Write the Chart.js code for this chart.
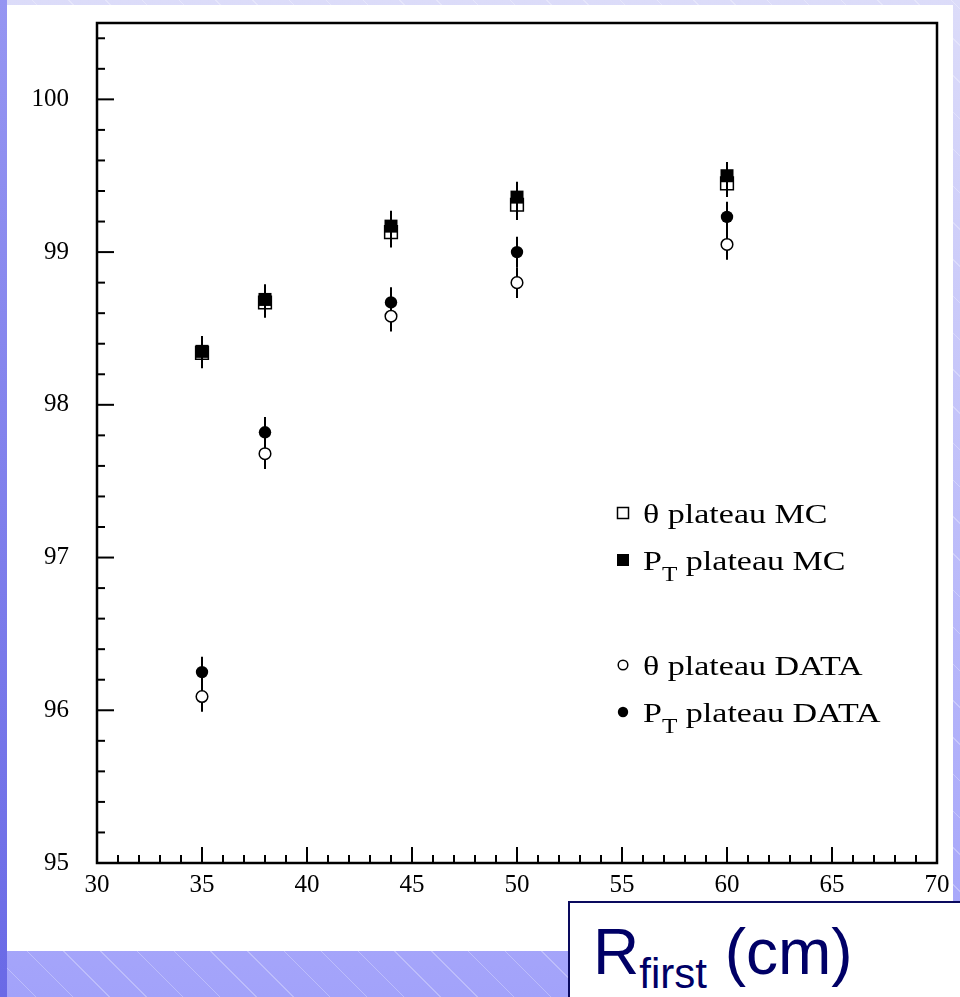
<!DOCTYPE html>
<html>
<head>
<meta charset="utf-8">
<script src="https://cdn.jsdelivr.net/npm/chart.js@4.4.1/dist/chart.umd.min.js"></script>
<style>
  body {
    margin: 0;
    width: 960px;
    height: 997px;
    position: relative;
    overflow: hidden;
    background:
      repeating-linear-gradient(45deg, rgba(255,255,255,0) 0 25px, rgba(255,255,255,0.28) 25px 26px),
      linear-gradient(to bottom, #dcdcf9, #a2a2fa);
  }
  #leftbar {
    position: absolute; left: 0; top: 0; width: 7px; height: 997px;
    background: linear-gradient(to bottom, #9696f2, #6a6ae6);
  }
  #panel {
    position: absolute; left: 7px; top: 5px; width: 946px; height: 946px;
    background: #fff;
  }
  #chart { position: absolute; left: 0; top: 0; }
  #xtitle {
    position: absolute; left: 568px; top: 901px; width: 420px; height: 120px;
    background: #fff; border: 2px solid #0a0a5e; box-sizing: border-box;
  }
  #xtitle span.lbl {
    position: absolute; left: 23px; top: 17px;
    font-family: 'Liberation Sans', Arial, sans-serif; font-size: 64px; line-height: 1;
    color: #000066; white-space: nowrap;
  }
  #xtitle sub { font-size: 42px; vertical-align: -14px; line-height: 0; }
</style>
</head>
<body>
<div id="leftbar"></div>
<div id="panel"></div>
<canvas id="chart" width="960" height="997"></canvas>
<div id="xtitle"><span class="lbl">R<sub>first</sub> (cm)</span></div>
<script>
// R_first values (cm)
const xValues = [35, 38, 44, 50, 60];

// plateau efficiencies (%)
const thetaMC   = [98.34, 98.67, 99.13, 99.31, 99.45];
const ptMC      = [98.35, 98.69, 99.17, 99.36, 99.50];
const thetaData = [96.09, 97.68, 98.58, 98.80, 99.05];
const ptData    = [96.25, 97.82, 98.67, 99.00, 99.23];

// symmetric errors
const mcErr   = [0.1, 0.1, 0.1, 0.1, 0.09];
const dataErr = [0.1, 0.1, 0.1, 0.1, 0.1];

const legendRows = [
    [{ t: 'θ plateau MC' }],
    [{ t: 'P' }, { t: 'T', sub: true }, { t: ' plateau MC' }],
    [{ t: 'θ plateau DATA' }],
    [{ t: 'P' }, { t: 'T', sub: true }, { t: ' plateau DATA' }]
];
const legendStyles = ['openRect', 'rect', 'openCircle', 'circle'];

const serif = "'Liberation Serif', 'Times New Roman', serif";

function pts(ys) {
    return xValues.map((x, i) => ({ x, y: ys[i] }));
}

/* error bars drawn below the markers */
const errorBars = {
    id: 'errorBars',
    beforeDatasetsDraw(chart) {
        const ctx = chart.ctx;
        const y = chart.scales.y;
        ctx.save();
        ctx.strokeStyle = '#000';
        ctx.lineWidth = 2;
        chart.data.datasets.forEach((ds, di) => {
            const meta = chart.getDatasetMeta(di);
            meta.data.forEach((p, i) => {
                const v = ds.data[i].y;
                const e = ds.errors[i];
                ctx.beginPath();
                ctx.moveTo(p.x, y.getPixelForValue(v - e));
                ctx.lineTo(p.x, y.getPixelForValue(v + e));
                ctx.stroke();
            });
        });
        ctx.restore();
    }
};

/* ROOT-like frame with inward ticks */
const frame = {
    id: 'frame',
    afterDraw(chart) {
        const ctx = chart.ctx;
        const a = chart.chartArea;
        const xs = chart.scales.x, ys = chart.scales.y;
        ctx.save();
        ctx.strokeStyle = '#000';
        ctx.lineWidth = 2;
        for (let i = 0; i <= 27; i++) {
            const py = ys.getPixelForValue(95 + i * 0.2);
            const len = i % 5 === 0 ? 17 : 8;
            ctx.beginPath();
            ctx.moveTo(a.left, py);
            ctx.lineTo(a.left + len, py);
            ctx.stroke();
        }
        for (let i = 0; i <= 40; i++) {
            const px = xs.getPixelForValue(30 + i);
            const len = i % 5 === 0 ? 16 : 8;
            ctx.beginPath();
            ctx.moveTo(px, a.bottom);
            ctx.lineTo(px, a.bottom - len);
            ctx.stroke();
        }
        ctx.lineWidth = 2.5;
        ctx.strokeRect(a.left, a.top, a.right - a.left, a.bottom - a.top);
        ctx.restore();
    }
};

/* legend inside the frame */
const legendBox = {
    id: 'legendBox',
    afterDraw(chart) {
        const ctx = chart.ctx;
        const baselines = [523, 570, 675, 722];
        ctx.save();
        ctx.fillStyle = '#000';
        ctx.strokeStyle = '#000';
        ctx.lineWidth = 1.5;
        legendRows.forEach((row, r) => {
            const by = baselines[r];
            const my = by - 10;
            const st = legendStyles[r];
            ctx.beginPath();
            if (st === 'openRect') { ctx.strokeRect(617.5, my - 5.5, 11, 11); }
            else if (st === 'rect') { ctx.fillRect(617, my - 6, 12, 12); }
            else if (st === 'openCircle') { ctx.arc(623, my, 4.8, 0, Math.PI * 2); ctx.stroke(); }
            else { ctx.arc(623, my, 5.2, 0, Math.PI * 2); ctx.fill(); }

            ctx.save();
            ctx.translate(643, by);
            ctx.scale(1.26, 1);
            let x = 0;
            row.forEach(seg => {
                ctx.font = (seg.sub ? '20px ' : '27px ') + serif;
                ctx.fillText(seg.t, x, seg.sub ? 11 : 0);
                x += ctx.measureText(seg.t).width;
            });
            ctx.restore();
        });
        ctx.restore();
    }
};

new Chart(document.getElementById('chart'), {
    type: 'scatter',
    data: {
        datasets: [
            {
                label: 'θ plateau MC', data: pts(thetaMC), errors: mcErr, order: 3,
                pointStyle: 'rect', pointRadius: 9, borderWidth: 1.5,
                borderColor: '#000', backgroundColor: 'rgba(0,0,0,0)'
            },
            {
                label: 'PT plateau MC', data: pts(ptMC), errors: mcErr, order: 1,
                pointStyle: 'rect', pointRadius: 9.2, borderWidth: 0,
                borderColor: '#000', backgroundColor: '#000'
            },
            {
                label: 'θ plateau DATA', data: pts(thetaData), errors: dataErr, order: 2,
                pointStyle: 'circle', pointRadius: 5.8, borderWidth: 1.5,
                borderColor: '#000', backgroundColor: '#fff'
            },
            {
                label: 'PT plateau DATA', data: pts(ptData), errors: dataErr, order: 1,
                pointStyle: 'circle', pointRadius: 6.2, borderWidth: 0,
                borderColor: '#000', backgroundColor: '#000'
            }
        ]
    },
    options: {
        responsive: false,
        animation: false,
        devicePixelRatio: 1,
        layout: { padding: { left: 0, top: 23, right: 23, bottom: 94 } },
        plugins: {
            legend: { display: false },
            tooltip: { enabled: false }
        },
        scales: {
            x: {
                type: 'linear', min: 30, max: 70,
                grid: { display: false, drawTicks: false },
                border: { display: false },
                ticks: {
                    stepSize: 5, autoSkip: false, maxRotation: 0, padding: 7,
                    color: '#000', font: { family: serif, size: 25 }
                },
                afterFit(s) { s.height = 40; s.paddingLeft = 0; s.paddingRight = 0; }
            },
            y: {
                type: 'linear', min: 95, max: 100.5,
                grid: { display: false, drawTicks: false },
                border: { display: false },
                ticks: {
                    stepSize: 1, includeBounds: false, padding: 28,
                    color: '#000', font: { family: serif, size: 25 }
                },
                afterFit(s) { s.width = 97; s.paddingTop = 0; s.paddingBottom = 0; }
            }
        }
    },
    plugins: [errorBars, frame, legendBox]
});
</script>
</body>
</html>
